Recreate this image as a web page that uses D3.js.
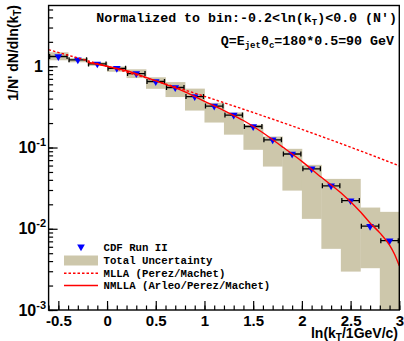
<!DOCTYPE html>
<html>
<head>
<meta charset="utf-8">
<script src="https://cdn.jsdelivr.net/npm/d3@7"></script>
<style>
  html, body { margin: 0; padding: 0; background: #fff; }
  svg { display: block; }
  .mono { font-family: "Liberation Mono", "Courier New", monospace; font-weight: bold; fill: #000; }
  .sans { font-family: "Liberation Sans", Arial, sans-serif; font-weight: bold; fill: #000; }
</style>
</head>
<body>
<svg id="chart" width="404" height="341"></svg>
<script>
// Data
const binCenters = [-0.5, -0.3, -0.1, 0.1, 0.3, 0.5, 0.7, 0.9, 1.1, 1.3, 1.5, 1.7, 1.9, 2.1, 2.3, 2.5, 2.7, 2.9];
const binWidth = 0.2;
const cdfValues = [1.32, 1.20, 1.07, 0.945, 0.813, 0.65, 0.548, 0.424, 0.324, 0.251, 0.1815, 0.1244, 0.0832, 0.0547, 0.0338, 0.0222, 0.01076, 0.00713];
const uncHigh = [1.487, 1.262, 1.12, 0.994, 0.918, 0.732, 0.639, 0.531, 0.355, 0.27, 0.1904, 0.1366, 0.0964, 0.0612, 0.0411, 0.0411, 0.01824, 0.01615];
const uncLow = [1.186, 1.12, 1.014, 0.856, 0.716, 0.528, 0.418, 0.285, 0.203, 0.144, 0.0937, 0.0583, 0.0295, 0.01324, 0.00566, 0.00297, 0.00327, 0.0008];

// MLLA (dotted) curve
const mllaX = [-0.6, -0.2, 0.2, 0.6, 1.0, 1.4, 1.8, 2.2, 2.6, 3.0];
const mllaY = [1.6, 1.17, 0.85, 0.607, 0.427, 0.296, 0.203, 0.137, 0.091, 0.0595];

// NMLLA (solid) curve
const nmllaX = [-0.2, 0.0, 0.2, 0.4, 0.6, 0.8, 1.0, 1.2, 1.4, 1.6, 1.8, 2.0, 2.2, 2.4, 2.6, 2.7, 2.8, 2.9, 2.95, 3.0];
const nmllaY = [1.12, 1.0, 0.88, 0.732, 0.60, 0.485, 0.371, 0.285, 0.215, 0.152, 0.102, 0.0676, 0.043, 0.0277, 0.0162, 0.0118, 0.0089, 0.0063, 0.0049, 0.0035];

// Axis settings
const xDomain = [-0.6, 3.0];
const yDomain = [1e-3, 5.6];
const xMajorTicks = [-0.5, 0, 0.5, 1, 1.5, 2, 2.5, 3];
const xTickLabels = ['-0.5', '0', '0.5', '1', '1.5', '2', '2.5', '3'];
const yMajorTicks = [1e-3, 1e-2, 1e-1, 1];
const yTickExponents = ['-3', '-2', '-1', null];

const svg = d3.select('#chart');
const plot = { left: 48.6, right: 399.3, top: 5.5, bottom: 310 };

const x = d3.scaleLinear().domain(xDomain).range([plot.left, plot.right]);
const y = d3.scaleLog().domain(yDomain).range([plot.bottom, plot.top]);

// Clip to frame
svg.append('defs').append('clipPath').attr('id', 'clip')
    .append('rect')
    .attr('x', plot.left).attr('y', plot.top)
    .attr('width', plot.right - plot.left).attr('height', plot.bottom - plot.top);

const data = binCenters.map((c, i) => ({
    x: c, v: cdfValues[i], hi: uncHigh[i], lo: uncLow[i]
}));

const g = svg.append('g').attr('clip-path', 'url(#clip)');

// Total uncertainty boxes
g.append('g')
    .selectAll('rect')
    .data(data)
    .enter()
    .append('rect')
    .attr('x', d => x(d.x - binWidth / 2))
    .attr('width', d => x(d.x + binWidth / 2) - x(d.x - binWidth / 2) + 0.4)
    .attr('y', d => y(d.hi))
    .attr('height', d => y(d.lo) - y(d.hi))
    .style('fill', '#cdc7ab');

// Horizontal error bars
const err = g.append('g').style('stroke', '#000').style('stroke-width', 1.3);
err.selectAll('line.h')
    .data(data)
    .enter()
    .append('line')
    .attr('class', 'h')
    .attr('x1', d => x(d.x - binWidth / 2) + 1)
    .attr('x2', d => x(d.x + binWidth / 2) - 1)
    .attr('y1', d => y(d.v))
    .attr('y2', d => y(d.v));
[-1, 1].forEach(side => {
    err.selectAll('line.cap' + side)
        .data(data)
        .enter()
        .append('line')
        .attr('x1', d => x(d.x + side * binWidth / 2) - side * 1)
        .attr('x2', d => x(d.x + side * binWidth / 2) - side * 1)
        .attr('y1', d => y(d.v) - 2.5)
        .attr('y2', d => y(d.v) + 2.5);
});

// Markers
const triangle = d3.symbol().type(d3.symbolTriangle).size(26);
g.append('g')
    .selectAll('path')
    .data(data)
    .enter()
    .append('path')
    .attr('d', triangle)
    .attr('transform', d => `translate(${x(d.x)},${y(d.v)}) rotate(180)`)
    .style('fill', '#0000ff');

// Theory curves
const line = d3.line().x(d => x(d[0])).y(d => y(d[1])).curve(d3.curveMonotoneX);
g.append('path')
    .datum(mllaX.map((v, i) => [v, mllaY[i]]))
    .attr('d', line)
    .style('fill', 'none')
    .style('stroke', '#ff0000')
    .style('stroke-width', 1.4)
    .style('stroke-dasharray', '2.5,2');
g.append('path')
    .datum(nmllaX.map((v, i) => [v, nmllaY[i]]))
    .attr('d', line)
    .style('fill', 'none')
    .style('stroke', '#ff0000')
    .style('stroke-width', 1.4);

// X axis (ticks inside the frame)
const xAxis = svg.append('g').attr('transform', `translate(0,${plot.bottom})`);
xAxis.call(d3.axisBottom(x).tickValues(d3.range(-0.6, 3.0001, 0.1)).tickSizeInner(-4.5).tickSizeOuter(0).tickFormat(''));
xAxis.append('g').call(d3.axisBottom(x).tickValues(xMajorTicks).tickSizeInner(-9).tickSizeOuter(0).tickPadding(5)
    .tickFormat((d, i) => xTickLabels[i]));
xAxis.selectAll('.domain').remove();
xAxis.selectAll('line').style('stroke', '#000').style('stroke-width', 1.2);
xAxis.selectAll('text').attr('class', 'sans').style('font-size', '15px').style('fill', '#000');

// Y axis
const yAxis = svg.append('g').attr('transform', `translate(${plot.left},0)`);
yAxis.call(d3.axisLeft(y).tickValues(y.ticks()).tickSizeInner(-4.5).tickSizeOuter(0).tickFormat(''));
yAxis.append('g').call(d3.axisLeft(y).tickValues(yMajorTicks).tickSizeInner(-9).tickSizeOuter(0).tickFormat(''));
yAxis.selectAll('.domain').remove();
yAxis.selectAll('line').style('stroke', '#000').style('stroke-width', 1.2);

// Y tick labels with superscripts
yMajorTicks.forEach((v, i) => {
    const t = svg.append('text')
        .attr('class', 'sans')
        .attr('x', 46)
        .attr('y', y(v) + 5.5)
        .attr('text-anchor', 'end')
        .style('font-size', '16px');
    if (yTickExponents[i] === null) {
        t.attr('x', 43).text('1');
    } else {
        t.append('tspan').text('10');
        t.append('tspan').attr('dy', -7).style('font-size', '11px').text(yTickExponents[i]);
    }
});

// Frame
svg.append('rect')
    .attr('x', plot.left).attr('y', plot.top)
    .attr('width', plot.right - plot.left).attr('height', plot.bottom - plot.top)
    .style('fill', 'none').style('stroke', '#000').style('stroke-width', 1.4);

// Axis titles
const xTitle = svg.append('text').attr('class', 'sans')
    .attr('x', 398).attr('y', 337.5).attr('text-anchor', 'end').style('font-size', '14px');
xTitle.append('tspan').text('ln(k');
xTitle.append('tspan').attr('dy', 3).style('font-size', '10px').text('T');
xTitle.append('tspan').attr('dy', -3).text('/1GeV/c)');

const yTitle = svg.append('text').attr('class', 'sans')
    .attr('transform', 'translate(18,5) rotate(-90)')
    .attr('text-anchor', 'end').style('font-size', '14px');
yTitle.append('tspan').text("1/N' dN/dln(k");
yTitle.append('tspan').attr('dy', 3).style('font-size', '10px').text('T');
yTitle.append('tspan').attr('dy', -3).text(')');

// Header texts
const head1 = svg.append('text').attr('class', 'mono')
    .attr('x', 397).attr('y', 22).attr('text-anchor', 'end').style('font-size', '13.3px');
head1.append('tspan').text('Normalized to bin:-0.2<ln(k');
head1.append('tspan').attr('dy', 3).style('font-size', '9px').text('T');
head1.append('tspan').attr('dy', -3).text(")<0.0 (N')");

const head2 = svg.append('text').attr('class', 'mono')
    .attr('x', 394).attr('y', 45).attr('text-anchor', 'end').style('font-size', '13.3px');
head2.append('tspan').text('Q=E');
head2.append('tspan').attr('dy', 3).style('font-size', '9px').text('jet');
head2.append('tspan').attr('dy', -3).text('\u03b8');
head2.append('tspan').attr('dy', 3).style('font-size', '9px').text('c');
head2.append('tspan').attr('dy', -3).text('=180*0.5=90 GeV');

// Legend
const legendRows = ['CDF Run II', 'Total Uncertainty', 'MLLA (Perez/Machet)', 'NMLLA (Arleo/Perez/Machet)'];
const legendY = [246.7, 260.5, 273.3, 285.5];
const legend = svg.append('g');
legendRows.forEach((label, i) => {
    legend.append('text').attr('class', 'mono')
        .attr('x', 103.5).attr('y', legendY[i] + 3.8)
        .style('font-size', '10.7px')
        .text(label);
});
legend.append('path')
    .attr('d', triangle)
    .attr('transform', `translate(81,${legendY[0]}) rotate(180)`)
    .style('fill', '#0000ff');
legend.append('rect')
    .attr('x', 64).attr('y', legendY[1] - 5).attr('width', 34).attr('height', 10)
    .style('fill', '#cdc7ab');
legend.append('line')
    .attr('x1', 64).attr('x2', 98).attr('y1', legendY[2]).attr('y2', legendY[2])
    .style('stroke', '#ff0000').style('stroke-width', 1.4).style('stroke-dasharray', '2.5,2');
legend.append('line')
    .attr('x1', 64).attr('x2', 98).attr('y1', legendY[3]).attr('y2', legendY[3])
    .style('stroke', '#ff0000').style('stroke-width', 1.4);
</script>
</body>
</html>
